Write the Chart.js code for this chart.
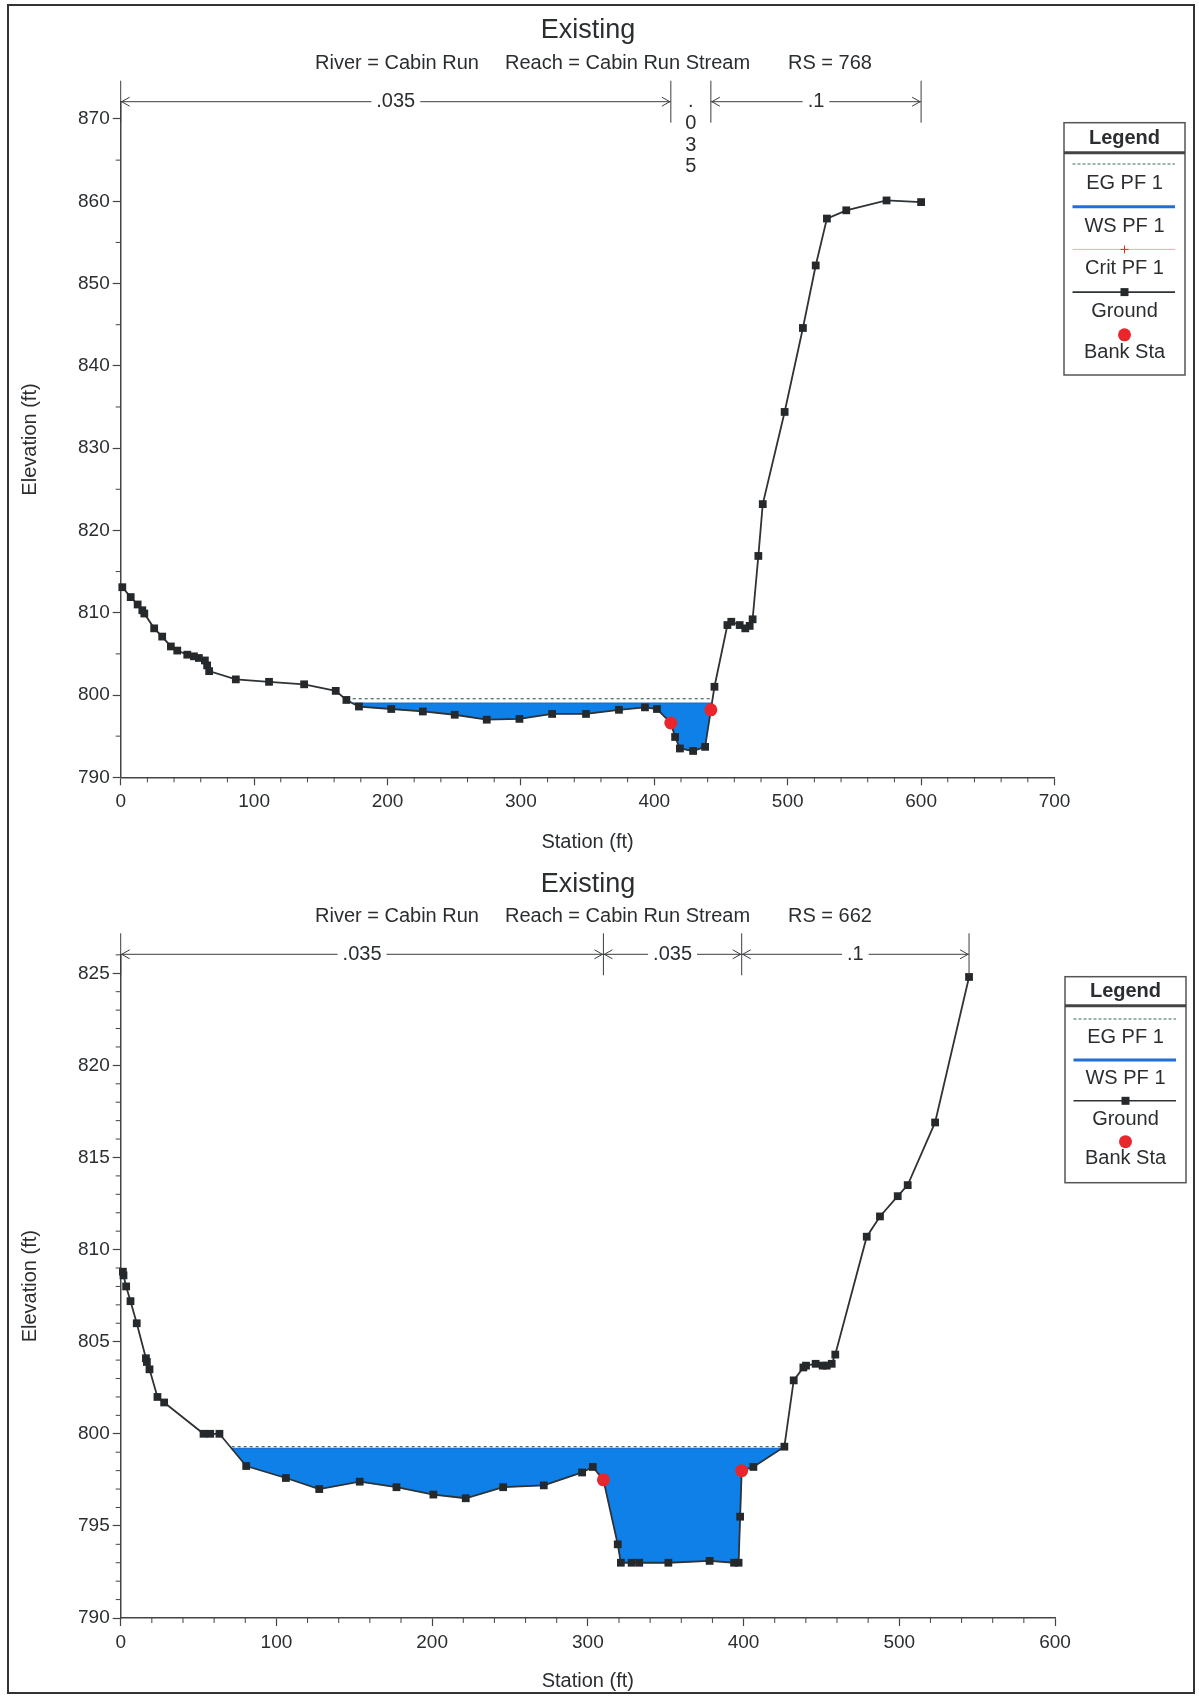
<!DOCTYPE html>
<html lang="en">
<head>
<meta charset="utf-8">
<title>Existing - Cabin Run</title>
<script src="https://cdn.jsdelivr.net/npm/chart.js@4.4.1/dist/chart.umd.min.js"></script>
<style>
  body { margin: 0; background: #fff; }
  #page { position: relative; width: 1199px; height: 1696px; overflow: hidden; background: #fff; }
  #page canvas { position: absolute; left: 0; }
  #frame { position: absolute; left: 7px; top: 4px; width: 1184px; height: 1686px; border: 2px solid #333; pointer-events: none; }
</style>
</head>
<body>
<div id="page">
  <canvas id="xs768" width="1199" height="860" style="top:0"></canvas>
  <canvas id="xs662" width="1199" height="836" style="top:860px"></canvas>
  <div id="frame"></div>
</div>
<script>
const FONT = "'Liberation Sans', Arial, sans-serif";
const INK = '#2b2e31';

// Sección RS 768
const sta768 = [1.2, 7.5, 12.7, 16.2, 17.7, 25.1, 31.1, 37.6, 42.4, 49.9, 54.9, 58.6, 63.1, 64.8, 66.3,
  86.3, 111.2, 137.5, 161.2, 169.2, 178.6, 202.8, 226.5, 250.4, 274.4, 298.9, 323.4, 348.8, 373.5,
  393.0, 402.0, 412.4, 415.6, 419.2, 429.1, 438.1, 442.4, 445.1, 454.8, 457.7, 464.0, 468.2, 471.5,
  473.7, 478.0, 481.3, 497.7, 511.4, 521.0, 529.4, 543.9, 574.1, 600.0];
const elev768 = [813.1, 811.9, 811.0, 810.3, 809.9, 808.1, 807.1, 805.9, 805.4, 804.9, 804.7, 804.5, 804.2, 803.6, 802.9,
  801.9, 801.6, 801.3, 800.5, 799.4, 798.6, 798.3, 798.0, 797.6, 797.0, 797.1, 797.7, 797.7, 798.2,
  798.5, 798.3, 796.6, 794.9, 793.5, 793.2, 793.7, 798.2, 801.0, 808.5, 808.9, 808.5, 808.1, 808.4,
  809.2, 816.9, 823.2, 834.4, 844.6, 852.2, 857.9, 858.9, 860.1, 859.9];
const banks768 = [412.4, 442.4];
const ws768 = 799.0;
const eg768 = 799.55;
const nSta768 = [0, 412.4, 442.4, 600];
const nVal768 = ['.035', '.035', '.1'];
const xTicks768 = [0, 100, 200, 300, 400, 500, 600, 700];
const yTicks768 = [790, 800, 810, 820, 830, 840, 850, 860, 870];
const sub768 = ['River = Cabin Run', 'Reach = Cabin Run Stream', 'RS = 768'];
const legend768 = ['eg', 'ws', 'crit', 'ground', 'bank'];

// Sección RS 662
const sta662 = [1.4, 1.8, 3.5, 6.3, 10.3, 16.2, 16.8, 18.5, 23.6, 27.9, 53.2, 57.5, 63.4, 80.6, 106.1,
  127.5, 153.5, 177.1, 200.8, 221.6, 245.6, 271.7, 296.3, 303.2, 310.0, 319.2, 321.2, 328.1, 333.0,
  351.7, 378.2, 393.9, 396.8, 397.8, 398.8, 406.3, 426.2, 432.2, 438.4, 440.1, 446.3, 450.8, 453.4,
  456.6, 458.9, 479.1, 487.6, 499.0, 505.4, 523.0, 544.8];
const elev662 = [808.8, 808.6, 808.0, 807.2, 806.0, 804.1, 803.9, 803.5, 802.0, 801.7, 800.0, 800.0, 800.0, 798.25, 797.6,
  797.0, 797.4, 797.1, 796.7, 796.5, 797.1, 797.2, 797.9, 798.2, 797.5, 794.0, 793.0, 793.0, 793.0,
  793.0, 793.1, 793.0, 793.0, 795.5, 798.0, 798.2, 799.3, 802.9, 803.6, 803.7, 803.8, 803.7, 803.7,
  803.8, 804.3, 810.7, 811.8, 812.9, 813.5, 816.9, 824.8];
const banks662 = [310.0, 398.8];
const ws662 = 799.2;
const eg662 = 799.3;
const nSta662 = [0, 310.0, 398.8, 544.8];
const nVal662 = ['.035', '.035', '.1'];
const xTicks662 = [0, 100, 200, 300, 400, 500, 600];
const yTicks662 = [790, 795, 800, 805, 810, 815, 820, 825];
const sub662 = ['River = Cabin Run', 'Reach = Cabin Run Stream', 'RS = 662'];
const legend662 = ['eg', 'ws', 'ground', 'bank'];

const LEGEND_TEXT = { eg: 'EG PF 1', ws: 'WS PF 1', crit: 'Crit PF 1', ground: 'Ground', bank: 'Bank Sta' };

// Helpers
function interp(sta, elev, x) {
    for (let i = 0; i < sta.length - 1; i++) {
        if (x >= sta[i] && x <= sta[i + 1]) {
            return elev[i] + (x - sta[i]) * (elev[i + 1] - elev[i]) / (sta[i + 1] - sta[i]);
        }
    }
    return elev[elev.length - 1];
}

// Polígono mojado: terreno por debajo de la lámina, cortado donde cruza el WS
function waterPolygon(sta, elev, ws) {
    const lo = elev.indexOf(Math.min(...elev));
    let i = lo, j = lo;
    while (i > 0 && elev[i - 1] <= ws) i--;
    while (j < elev.length - 1 && elev[j + 1] <= ws) j++;
    const xl = sta[i - 1] + (ws - elev[i - 1]) * (sta[i] - sta[i - 1]) / (elev[i] - elev[i - 1]);
    const xr = sta[j] + (ws - elev[j]) * (sta[j + 1] - sta[j]) / (elev[j + 1] - elev[j]);
    const pts = [{ x: xl, y: ws }];
    for (let k = i; k <= j; k++) pts.push({ x: sta[k], y: elev[k] });
    pts.push({ x: xr, y: ws });
    return pts;
}

function seg(ctx, x1, y1, x2, y2) {
    ctx.beginPath();
    ctx.moveTo(x1, y1);
    ctx.lineTo(x2, y2);
    ctx.stroke();
}

function arrow(ctx, x, y, dir) {
    ctx.beginPath();
    ctx.moveTo(x + 9 * dir, y - 4.5);
    ctx.lineTo(x + dir, y);
    ctx.lineTo(x + 9 * dir, y + 4.5);
    ctx.stroke();
}

// Tramos de Manning sobre el gráfico
function drawBrackets(ctx, xs, lineY, breaks, labels) {
    ctx.strokeStyle = '#3a3d40';
    ctx.lineWidth = 1;
    ctx.fillStyle = INK;
    ctx.font = `20px ${FONT}`;
    ctx.textAlign = 'center';
    ctx.textBaseline = 'middle';
    const px = breaks.map(b => xs.getPixelForValue(b));
    px.forEach(p => seg(ctx, p, lineY - 21, p, lineY + 21));
    labels.forEach((lab, i) => {
        const x1 = px[i], x2 = px[i + 1], cx = (x1 + x2) / 2;
        const w = ctx.measureText(lab).width;
        if (x2 - x1 < w + 30) {
            // tramo demasiado estrecho: el valor va en vertical
            [...lab].forEach((ch, k) => ctx.fillText(ch, cx, lineY + k * 21.7));
            return;
        }
        seg(ctx, x1, lineY, cx - w / 2 - 5, lineY);
        seg(ctx, cx + w / 2 + 5, lineY, x2, lineY);
        arrow(ctx, x1, lineY, 1);
        arrow(ctx, x2, lineY, -1);
        ctx.fillText(lab, cx, lineY);
    });
}

function drawSample(ctx, key, x1, x2, cx, y) {
    ctx.save();
    if (key === 'eg') {
        ctx.strokeStyle = '#3b6a57';
        ctx.lineWidth = 1.2;
        ctx.setLineDash([3, 2]);
        seg(ctx, x1, y, x2, y);
    } else if (key === 'ws') {
        ctx.strokeStyle = '#1f6fd6';
        ctx.lineWidth = 3;
        seg(ctx, x1, y, x2, y);
    } else if (key === 'crit') {
        ctx.strokeStyle = '#f2a7ae';
        ctx.lineWidth = 1;
        seg(ctx, x1, y, x2, y);
        ctx.strokeStyle = '#e8262b';
        seg(ctx, cx - 4, y, cx + 4, y);
        seg(ctx, cx, y - 4, cx, y + 4);
    } else if (key === 'ground') {
        ctx.strokeStyle = '#2f3336';
        ctx.lineWidth = 1.6;
        seg(ctx, x1, y, x2, y);
        ctx.fillStyle = '#26292c';
        ctx.fillRect(cx - 4, y - 4, 8, 8);
    } else if (key === 'bank') {
        ctx.fillStyle = '#e8262b';
        ctx.beginPath();
        ctx.arc(cx, y, 6.5, 0, Math.PI * 2);
        ctx.fill();
    }
    ctx.restore();
}

function drawLegend(ctx, L, items) {
    const [x, y, w, h] = L.box;
    ctx.fillStyle = '#fff';
    ctx.fillRect(x, y, w, h);
    ctx.strokeStyle = '#555';
    ctx.lineWidth = 1.5;
    ctx.strokeRect(x, y, w, h);
    ctx.strokeStyle = '#444';
    ctx.lineWidth = 3;
    seg(ctx, x, y + L.head, x + w, y + L.head);
    const cx = x + w / 2;
    ctx.fillStyle = INK;
    ctx.textAlign = 'center';
    ctx.textBaseline = 'middle';
    ctx.font = `bold 20px ${FONT}`;
    ctx.fillText('Legend', cx, y + L.head / 2 + 0.5);
    ctx.font = `20px ${FONT}`;
    items.forEach((key, i) => {
        const sy = y + L.first + i * L.step;
        drawSample(ctx, key, x + 8.5, x + w - 10, cx, sy);
        ctx.fillStyle = INK;
        ctx.fillText(LEGEND_TEXT[key], cx, sy + (key === 'bank' ? L.gap - 2 : L.gap));
    });
}

// Títulos, ticks menores, tramos de n y leyenda
function makeDecor(s) {
    return {
        id: 'decor_' + s.id,
        afterDraw(chart) {
            const ctx = chart.ctx;
            const xs = chart.scales.x, ys = chart.scales.y;
            const area = chart.chartArea;
            ctx.save();
            ctx.fillStyle = INK;
            ctx.textBaseline = 'middle';
            ctx.textAlign = 'center';
            ctx.font = `27px ${FONT}`;
            ctx.fillText('Existing', 588, s.titleY);
            ctx.font = `20px ${FONT}`;
            ctx.textAlign = 'left';
            s.subtitle.forEach((t, i) => ctx.fillText(t, [315, 505, 788][i], s.titleY + 32));

            ctx.strokeStyle = '#444';
            ctx.lineWidth = 1;
            for (let k = 0; ; k++) {
                const v = xs.min + k * s.minorX;
                if (v > xs.max) break;
                if (s.xTicks.includes(v)) continue;
                const p = xs.getPixelForValue(v);
                seg(ctx, p, area.bottom, p, area.bottom + 5);
            }
            for (let k = 0; ; k++) {
                const v = ys.min + k * s.minorY;
                if (v > ys.max) break;
                if (s.yTicks.includes(v)) continue;
                const p = ys.getPixelForValue(v);
                seg(ctx, area.left - 5, p, area.left, p);
            }

            drawBrackets(ctx, xs, area.top, s.nSta, s.nVal);
            drawLegend(ctx, s.legendBox, s.legend);
            ctx.restore();
        }
    };
}

function buildSection(canvasId, s) {
    const ground = s.sta.map((x, i) => ({ x, y: s.elev[i] }));
    const water = waterPolygon(s.sta, s.elev, s.ws);
    const xl = water[0].x, xr = water[water.length - 1].x;
    const banks = s.banks.map(b => ({ x: b, y: interp(s.sta, s.elev, b) }));
    const tickFont = { family: FONT, size: 19 };
    const titleFont = { family: FONT, size: 20 };

    return new Chart(document.getElementById(canvasId), {
        type: 'line',
        data: {
            datasets: [
                { label: 'Bank Sta', data: banks, showLine: false, pointStyle: 'circle', pointRadius: 6.5,
                  pointBackgroundColor: '#e8262b', pointBorderWidth: 0, clip: false },
                { label: 'Ground', data: ground, borderColor: '#2f3336', borderWidth: 1.8, pointStyle: 'rect',
                  pointRadius: 5.5, pointBackgroundColor: '#26292c', pointBorderWidth: 0, clip: false },
                { label: 'EG PF 1', data: [{ x: xl, y: s.eg }, { x: xr, y: s.eg }], borderColor: '#3b6a57',
                  borderWidth: 1.2, borderDash: [3, 3], pointRadius: 0 },
                { label: 'WS PF 1', data: [{ x: xl, y: s.ws }, { x: xr, y: s.ws }], borderColor: '#1f6fd6',
                  borderWidth: 1.5, pointRadius: 0 },
                { label: 'water', data: water, borderColor: 'rgb(14,128,232)', borderWidth: 0.5, pointRadius: 0,
                  backgroundColor: 'rgb(14,128,232)', fill: { value: s.ws } }
            ]
        },
        options: {
            responsive: false,
            maintainAspectRatio: false,
            animation: false,
            events: [],
            devicePixelRatio: 1,
            elements: { line: { tension: 0 } },
            layout: { padding: { left: 0, right: s.padRight, top: s.padTop, bottom: 0 } },
            plugins: { legend: { display: false }, tooltip: { enabled: false } },
            scales: {
                x: {
                    type: 'linear', min: 0, max: s.xMax,
                    afterBuildTicks: a => { a.ticks = s.xTicks.map(v => ({ value: v })); },
                    afterFit: a => { a.height = s.xAxisH; },
                    ticks: { font: tickFont, color: INK, padding: 5, maxRotation: 0, autoSkip: false },
                    grid: { drawOnChartArea: false, tickLength: 8, color: '#444', tickWidth: 1.2 },
                    border: { color: '#444', width: 1.5 },
                    title: { display: true, text: 'Station (ft)', font: titleFont, color: INK,
                             padding: { top: 0, bottom: s.xTitlePad } }
                },
                y: {
                    type: 'linear', min: 790, max: s.yMax,
                    afterBuildTicks: a => { a.ticks = s.yTicks.map(v => ({ value: v })); },
                    afterFit: a => { a.width = 120.7; },
                    ticks: { font: tickFont, color: INK, padding: 3, autoSkip: false },
                    grid: { drawOnChartArea: false, tickLength: 8, color: '#444', tickWidth: 1.2 },
                    border: { color: '#444', width: 1.5 },
                    title: { display: true, text: 'Elevation (ft)', font: titleFont, color: INK,
                             padding: { top: 18, bottom: 0 } }
                }
            }
        },
        plugins: [makeDecor(s)]
    });
}

window.addEventListener('load', () => {
    buildSection('xs768', {
        id: '768', sta: sta768, elev: elev768, banks: banks768, ws: ws768, eg: eg768,
        nSta: nSta768, nVal: nVal768, xTicks: xTicks768, yTicks: yTicks768,
        subtitle: sub768, legend: legend768,
        xMax: 700, yMax: 872.1, minorX: 20, minorY: 5,
        padTop: 101.7, padRight: 144.5, xAxisH: 82.7, xTitlePad: 6, titleY: 31,
        legendBox: { box: [1064, 122.7, 121, 252.3], head: 30, first: 41.3, step: 42.7, gap: 19.5 }
    });
    buildSection('xs662', {
        id: '662', sta: sta662, elev: elev662, banks: banks662, ws: ws662, eg: eg662,
        nSta: nSta662, nVal: nVal662, xTicks: xTicks662, yTicks: yTicks662,
        subtitle: sub662, legend: legend662,
        xMax: 600, yMax: 826.03, minorX: 20, minorY: 1,
        padTop: 94.3, padRight: 144, xAxisH: 78, xTitlePad: 2.3, titleY: 24.4,
        legendBox: { box: [1065, 116.7, 121, 206], head: 29, first: 42.3, step: 40.9, gap: 18.3 }
    });
});
</script>
</body>
</html>
